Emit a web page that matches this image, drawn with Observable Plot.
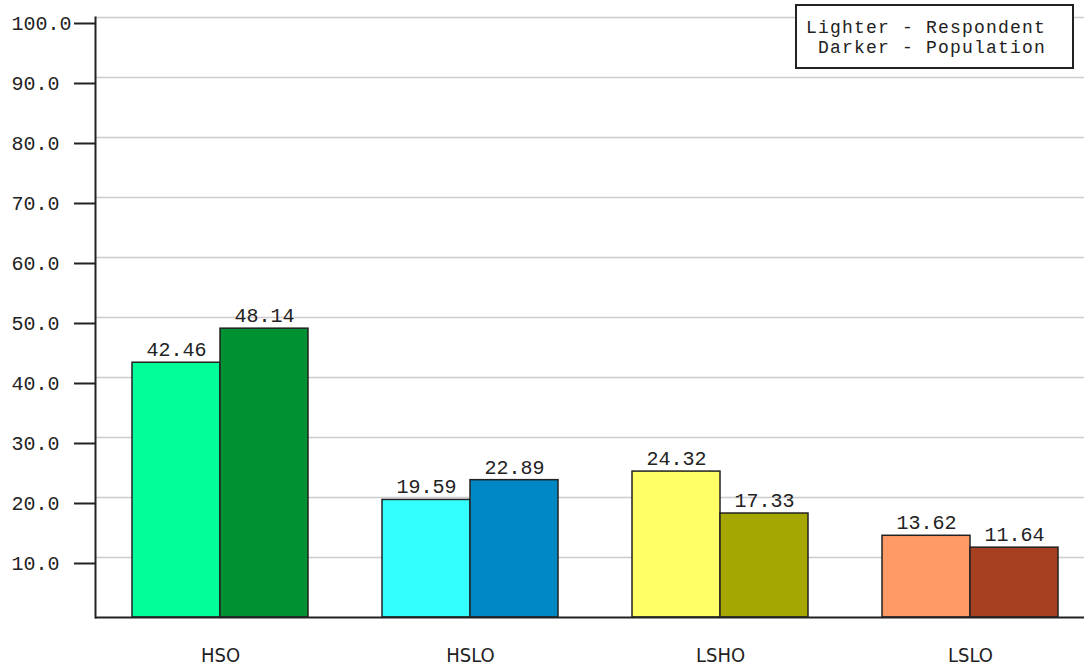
<!DOCTYPE html>
<html>
<head>
<meta charset="utf-8">
<script src="https://cdn.jsdelivr.net/npm/d3@7"></script>
<script src="https://cdn.jsdelivr.net/npm/@observablehq/plot@0.6"></script>
<style>
  html, body { margin: 0; padding: 0; background: #fff; overflow: hidden; }
  #wrap { position: relative; width: 1084px; height: 672px; overflow: hidden; }
  #legend {
    position: absolute; left: 795px; top: 4px; width: 275px; height: 61px;
    border: 2px solid #222; background: #fff;
    font-family: "Liberation Mono", "DejaVu Sans Mono", monospace; font-size: 18px;
    letter-spacing: 1.2px; line-height: 18px; color: #222; white-space: pre;
    box-sizing: content-box; padding: 0;
  }
  #legend div { position: absolute; left: 9px; }
</style>
</head>
<body>
<div id="wrap">
  <div id="chart"></div>
  <div id="legend"><div style="top:13px">Lighter - Respondent</div><div style="top:33px"> Darker - Population</div></div>
</div>
<script>
const categories = ["HSO", "HSLO", "LSHO", "LSLO"];
const respondent = [42.46, 19.59, 24.32, 13.62];
const population = [48.14, 22.89, 17.33, 11.64];
const lightColors = ["#00ff99", "#33ffff", "#ffff66", "#ff9966"];
const darkColors = ["#009133", "#0088c4", "#a6a600", "#a64020"];
const yTicks = [10, 20, 30, 40, 50, 60, 70, 80, 90, 100];

const resp = categories.map((c, i) => ({category: c, value: respondent[i], color: lightColors[i]}));
const pop = categories.map((c, i) => ({category: c, value: population[i], color: darkColors[i]}));

const mono = "Liberation Mono, DejaVu Sans Mono, monospace";
const ink = "#222";

const chart = Plot.plot({
  width: 1084,
  height: 672,
  marginLeft: 95,
  marginRight: 0,
  marginTop: 17,
  marginBottom: 55,
  style: {background: "#fff", fontFamily: mono, fontSize: "20px", color: ink},
  x: {type: "band", domain: categories, range: [95, 1095], paddingInner: 0.296, paddingOuter: 0.148, label: null},
  y: {domain: [0, 100], label: null},
  color: {type: "identity"},
  marks: [
    Plot.ruleY(yTicks, {stroke: "#cccccc", strokeWidth: 1.5}),
    Plot.barY(resp, {x: "category", y: "value", fill: "color", stroke: ink, strokeWidth: 1.5, insetRight: 88}),
    Plot.barY(pop, {x: "category", y: "value", fill: "color", stroke: ink, strokeWidth: 1.5, insetLeft: 88}),
    Plot.text(resp, {x: "category", y: "value", text: d => d.value.toFixed(2), dx: -44, dy: -13, fill: ink, fontFamily: mono, fontSize: 20}),
    Plot.text(pop, {x: "category", y: "value", text: d => d.value.toFixed(2), dx: 44, dy: -13, fill: ink, fontFamily: mono, fontSize: 20}),
    Plot.axisY({ticks: yTicks, tickSize: 21, tickPadding: 63, textAnchor: "start", tickFormat: d => d.toFixed(1), stroke: ink, strokeWidth: 2, dy: 6, fill: ink, fontFamily: mono, fontSize: 20, label: null}),
    Plot.axisX({tickSize: 0, tickPadding: 30, fontFamily: "Liberation Sans Narrow, DejaVu Sans Condensed, sans-serif", fontSize: 20, fill: ink, label: null}),
    Plot.frame({anchor: "left", stroke: ink, strokeWidth: 2}),
    Plot.ruleY([0], {stroke: ink, strokeWidth: 2})
  ]
});
document.getElementById("chart").appendChild(chart);
</script>
</body>
</html>
